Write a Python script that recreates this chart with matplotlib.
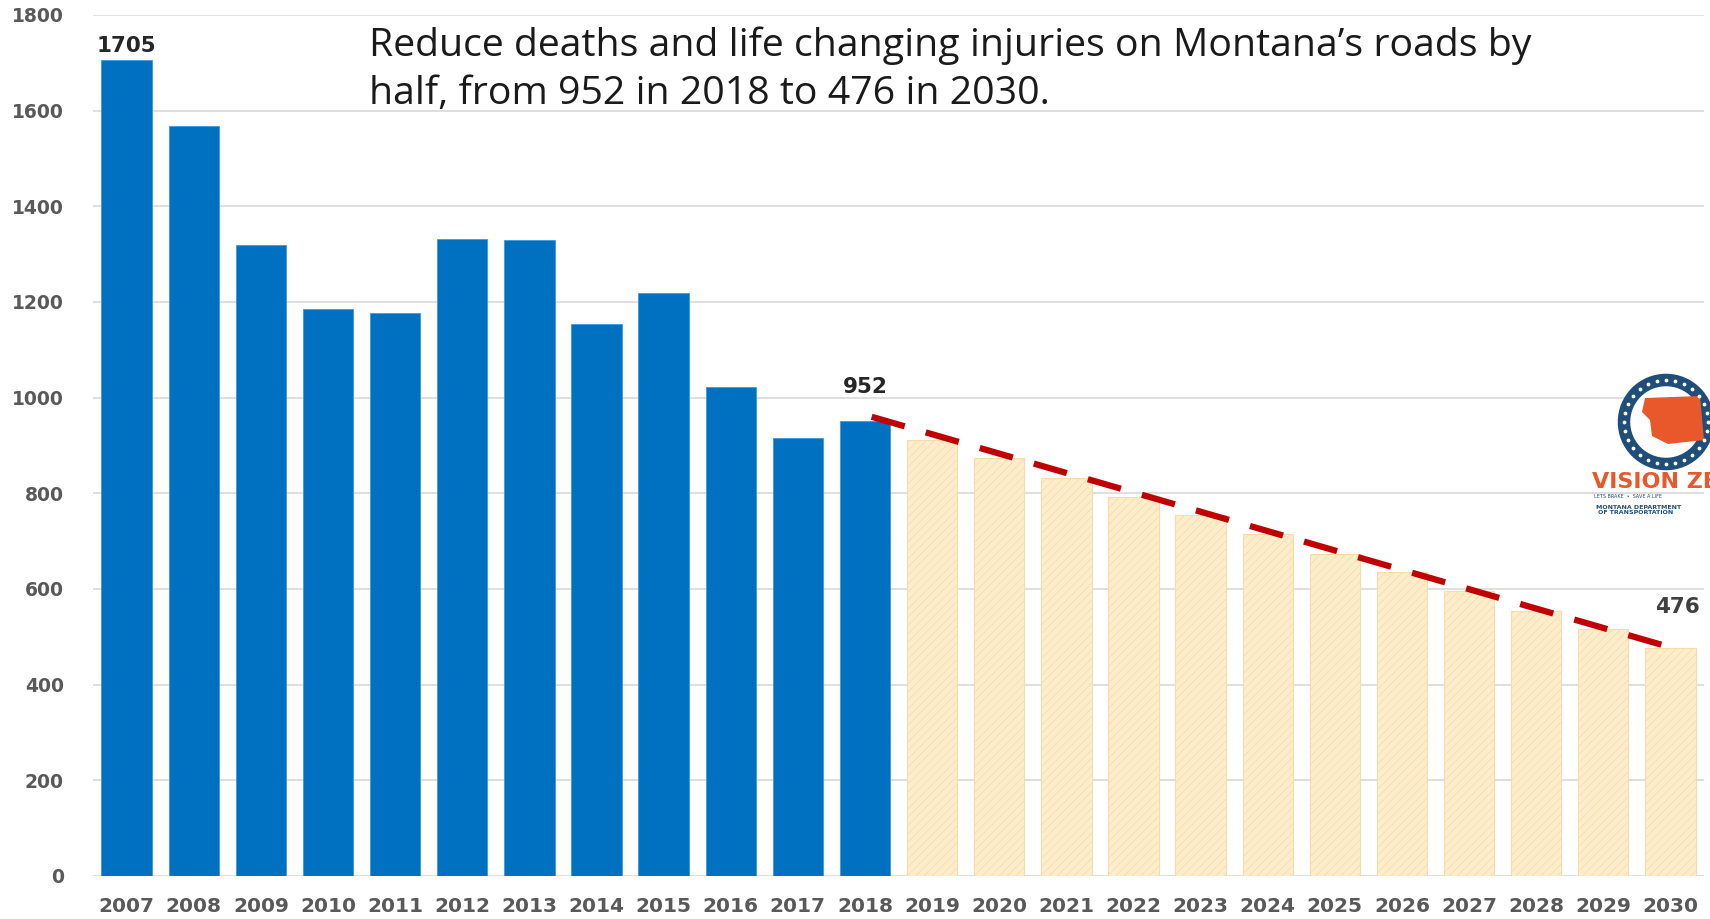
import matplotlib
matplotlib.use("Agg")
import matplotlib.pyplot as plt
from matplotlib.patches import Circle, Polygon
import numpy as np

plt.rcParams['hatch.linewidth'] = 0.5

# actual values 2007-2018
actual_years = [2007, 2008, 2009, 2010, 2011, 2012, 2013, 2014, 2015, 2016, 2017, 2018]
actual_values = [1705, 1567, 1319, 1186, 1177, 1332, 1330, 1155, 1218, 1022, 915, 952]
# target values 2019-2030
target_years = [2019, 2020, 2021, 2022, 2023, 2024, 2025, 2026, 2027, 2028, 2029, 2030]
target_values = [912, 873, 833, 793, 754, 714, 674, 635, 595, 555, 516, 476]
# dashed trend line end points
trend_years = [2018, 2030]
trend_values = [960, 474]

title = ("Reduce deaths and life changing injuries on Montana\u2019s roads by\n"
         "half, from 952 in 2018 to 476 in 2030.")

years = actual_years + target_years
xpos = {y: i for i, y in enumerate(years)}

fig = plt.figure(figsize=(17.1, 9.19), dpi=100, facecolor="white")
ax = fig.add_axes([0.0544, 0.0468, 0.9421, 0.9369])

ax.bar([xpos[y] for y in actual_years], actual_values, width=0.75,
       color="#0070c0", edgecolor="#3d9ae0", linewidth=0.6, zorder=3)
ax.bar([xpos[y] for y in target_years], target_values, width=0.75,
       color="#fdedcb", edgecolor="#f8dba8", hatch="////", linewidth=0.8, zorder=3)

tx = [xpos[y] + 0.1 for y in trend_years]
ax.plot(tx, trend_values, color="#c00000", linewidth=4.5,
        dashes=(5.5, 3.5), solid_capstyle="butt", zorder=4)

ax.set_xlim(-0.5, 23.5)
ax.set_ylim(0, 1800)
ax.set_yticks(np.arange(0, 1801, 200))
ax.set_xticks(range(len(years)))
ax.set_xticklabels([str(y) for y in years])
ax.grid(axis="y", color="#dcdcdc", linewidth=1.3, zorder=0)
ax.set_axisbelow(True)
for s in ax.spines.values():
    s.set_visible(False)
ax.tick_params(axis="both", length=0, colors="#595959")
ax.tick_params(axis="y", pad=21, labelsize=13.5)
ax.tick_params(axis="x", pad=15, labelsize=14.5)
for lab in ax.get_xticklabels() + ax.get_yticklabels():
    lab.set_fontweight("bold")

# value labels
ax.text(xpos[2007], 1705 + 10, "1705", ha="center", va="bottom",
        fontsize=15.5, fontweight="bold", color="#262626")
ax.text(xpos[2018], 952 + 50, "952", ha="center", va="bottom",
        fontsize=15.5, fontweight="bold", color="#262626")
ax.text(xpos[2030] + 0.1, 476 + 66, "476", ha="center", va="bottom",
        fontsize=15.5, fontweight="bold", color="#404040")

fig.text(369 / 1710, 1 - 104 / 919, title, ha="left", va="baseline",
         fontsize=28.3, family="Open Sans", color="#1a1a1a", linespacing=1.34)

# Vision Zero logo (cut off at the right edge, as in the source image)
lax = fig.add_axes([1592 / 1710, 1 - 540 / 919, 118 / 1710, 170 / 919])
lax.set_xlim(1592, 1710)
lax.set_ylim(540, 370)
lax.axis("off")
lax.add_patch(Circle((1666, 422), 42, facecolor="white", edgecolor="#1f4e79",
                     linewidth=9, clip_on=True))
ang = np.linspace(0, 2 * np.pi, 28, endpoint=False)
lax.scatter(1666 + 42 * np.cos(ang), 422 + 42 * np.sin(ang), s=3, color="white",
            zorder=5, clip_on=True)
lax.add_patch(Polygon([(1645, 398), (1700, 396), (1704, 440), (1668, 444),
                       (1652, 436), (1650, 420), (1642, 412)],
                      facecolor="#e8582a", edgecolor="none", clip_on=True))
lax.text(1592, 488, "VISION ZERO", fontsize=16, fontweight="bold",
         family="DejaVu Sans Condensed", color="#e8582a", va="baseline",
         clip_on=True)
lax.text(1594, 498, "LETS BRAKE  \u2022  SAVE A LIFE", fontsize=3.5, color="#1f4e79",
         va="baseline", clip_on=True)
lax.text(1596, 514, "MONTANA DEPARTMENT\n OF TRANSPORTATION", fontsize=4.5,
         fontweight="bold", color="#1f4e79", va="baseline", clip_on=True,
         linespacing=1.1)

fig.savefig("out.png", dpi=100, facecolor="white")
